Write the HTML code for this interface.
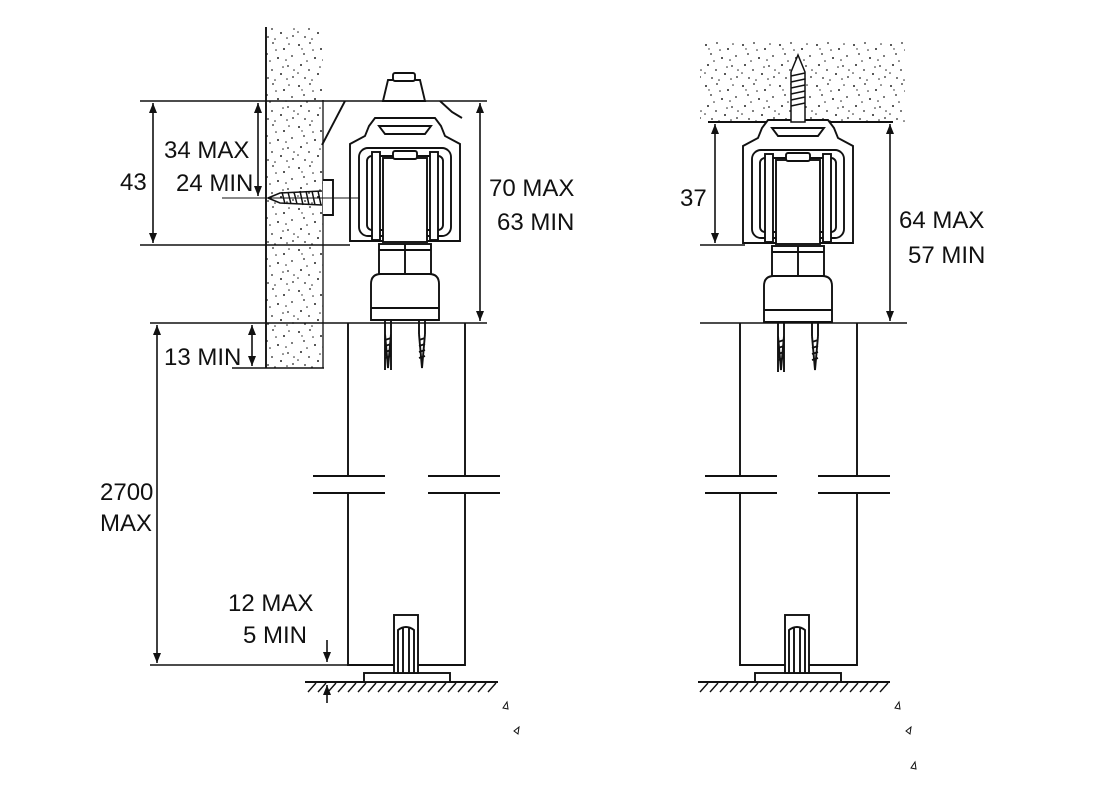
<!DOCTYPE html>
<html><head><meta charset="utf-8"><style>
html,body{margin:0;padding:0;background:#fff}
svg{display:block}
text{font-family:"Liberation Sans",Arial,sans-serif;font-size:24px;fill:#111}
</style></head><body>
<svg width="1119" height="803" viewBox="0 0 1119 803" xmlns="http://www.w3.org/2000/svg">
<defs>
<pattern id="dots" width="37" height="41" patternUnits="userSpaceOnUse">
<g fill="#222">
<circle cx="3" cy="4" r="1"/><circle cx="14" cy="2" r="0.9"/><circle cx="25" cy="8" r="1"/><circle cx="33" cy="15" r="0.9"/>
<circle cx="8" cy="13" r="0.9"/><circle cx="19" cy="17" r="1"/><circle cx="29" cy="25" r="0.9"/><circle cx="5" cy="24" r="1"/>
<circle cx="13" cy="29" r="0.9"/><circle cx="22" cy="33" r="1"/><circle cx="34" cy="36" r="0.9"/><circle cx="9" cy="37" r="0.9"/>
<circle cx="17" cy="9" r="0.8"/><circle cx="27" cy="19" r="0.8"/><circle cx="2" cy="32" r="0.8"/>
<circle cx="11" cy="20" r="0.8"/><circle cx="30" cy="3" r="0.8"/><circle cx="24" cy="26" r="0.8"/><circle cx="35" cy="29" r="0.8"/>
<circle cx="16" cy="39" r="0.8"/><circle cx="6" cy="8" r="0.7"/><circle cx="28" cy="38" r="0.8"/>
</g>
</pattern>
<marker id="ar" viewBox="0 0 10 10" refX="10" refY="5" markerWidth="10" markerHeight="13" orient="auto-start-reverse" markerUnits="userSpaceOnUse">
<path d="M0,1 L10,5 L0,9 Z" fill="#111"/>
</marker>
<g id="hanger" stroke="#111" stroke-width="1.9" fill="#fff">
<path d="M-30,0 H30 L36,8 L40,18 L55,26 V123 H-55 V26 L-40,18 L-36,8 Z"/>
<path d="M-26,8 H26 L20,16 H-20 Z"/>
<rect x="-46" y="30" width="92" height="88" rx="9"/>
<rect x="-38" y="38" width="76" height="74" rx="5"/>
<rect x="-33" y="34" width="8" height="88"/>
<rect x="25" y="34" width="8" height="88"/>
<rect x="-22" y="40" width="44" height="84"/>
<rect x="-12" y="33" width="24" height="8" rx="2"/>
<rect x="-26" y="126" width="52" height="30"/>
<line x1="0" y1="126" x2="0" y2="156"/>
<line x1="-26" y1="132" x2="26" y2="132"/>
<path d="M-34,166 Q-34,156 -24,156 H24 Q34,156 34,166 V202 H-34 Z"/>
<line x1="-34" y1="190" x2="34" y2="190"/>
<path d="M-20,202 V252 M-14,202 V252 M-20,216 L-17,250 L-14,216 M14,202 V216 M20,202 V216 M14,216 L17,250 L20,216" fill="none"/>
<path d="M-20,222 L-14,220 M-20,228 L-14,226 M-20,234 L-14,232 M-20,240 L-14,238 M14,222 L20,220 M14,228 L20,226 M14,234 L20,232 M14,240 L20,238" fill="none"/>
</g>
<g id="foot" stroke="#111" stroke-width="1.9" fill="#fff">
<rect x="-42" y="673" width="86" height="9"/>
<rect x="-12" y="615" width="24" height="58"/>
<path d="M-8,673 V630 Q0,624 8,630 V673 M-3,628 V673 M3,628 V673" fill="none"/>
</g>
</defs>

<!-- LEFT: wall -->
<rect x="266" y="27" width="57" height="341" fill="url(#dots)"/>
<line x1="266" y1="27" x2="266" y2="368" stroke="#111" stroke-width="1.9"/>
<line x1="323" y1="100" x2="323" y2="368" stroke="#111" stroke-width="1.3"/>

<!-- left hanger -->
<use href="#hanger" x="405" y="118"/>
<g stroke="#111" stroke-width="1.9" fill="#fff">
<path d="M383,101 L388,80 L420,80 L425,101 Z"/>
<rect x="393" y="73" width="22" height="8" rx="2"/>
<path d="M345,101 L322,145"/>
<path d="M440,101 L452,112 L462,118"/>
<path d="M323,180 H333 V215 H323"/>
</g>
<!-- wall screw -->
<g stroke="#111" stroke-width="1.5" fill="none">
<line x1="222" y1="198" x2="360" y2="198" stroke-width="1.1"/>
<path d="M268,198 L280,193 L322,191 M268,198 L280,203 L322,205"/>
<path d="M282,192 L285,204 M288,192 L291,204 M294,192 L297,204 M300,191 L303,205 M306,191 L309,205 M312,191 L315,205 M318,191 L321,205"/>
</g>

<!-- left dimension lines -->
<g stroke="#111" stroke-width="1.6" fill="none">
<line x1="140" y1="101" x2="487" y2="101"/>
<line x1="140" y1="245" x2="350" y2="245"/>
<line x1="150" y1="323" x2="487" y2="323"/>
<line x1="232" y1="368" x2="324" y2="368"/>
<line x1="150" y1="665" x2="348" y2="665"/>
<line x1="153" y1="103" x2="153" y2="243" marker-start="url(#ar)" marker-end="url(#ar)"/>
<line x1="258" y1="103" x2="258" y2="196" marker-start="url(#ar)" marker-end="url(#ar)"/>
<line x1="480" y1="103" x2="480" y2="321" marker-start="url(#ar)" marker-end="url(#ar)"/>
<line x1="252" y1="325" x2="252" y2="366" marker-start="url(#ar)" marker-end="url(#ar)"/>
<line x1="157" y1="325" x2="157" y2="663" marker-start="url(#ar)" marker-end="url(#ar)"/>
<line x1="327" y1="640" x2="327" y2="662" marker-end="url(#ar)"/>
<line x1="327" y1="703" x2="327" y2="685" marker-end="url(#ar)"/>
</g>

<!-- left door -->
<g stroke="#111" stroke-width="1.9" fill="none">
<path d="M348,323 V476 M465,323 V476 M348,493 V665 H465 V493"/>
<path d="M313,476 H385 M428,476 H500 M313,493 H385 M428,493 H500"/>
<line x1="305" y1="682" x2="498" y2="682"/>
</g>
<use href="#foot" x="406" y="0"/>

<!-- right ceiling -->
<rect x="700" y="42" width="205" height="80" fill="url(#dots)"/>
<line x1="708" y1="122" x2="893" y2="122" stroke="#111" stroke-width="2"/>
<use href="#hanger" x="798" y="120"/>
<g stroke="#111" stroke-width="1.5" fill="#fff">
<path d="M791,122 V72 L798,55 L805,72 V122 Z"/>
<path d="M791,76 L805,73 M791,82 L805,79 M791,88 L805,85 M791,94 L805,91 M791,100 L805,97 M791,106 L805,103" fill="none"/>
</g>
<g stroke="#111" stroke-width="1.6" fill="none">
<line x1="700" y1="245" x2="745" y2="245"/>
<line x1="700" y1="323" x2="907" y2="323"/>
<line x1="715" y1="124" x2="715" y2="243" marker-start="url(#ar)" marker-end="url(#ar)"/>
<line x1="890" y1="124" x2="890" y2="321" marker-start="url(#ar)" marker-end="url(#ar)"/>
</g>
<g stroke="#111" stroke-width="1.9" fill="none">
<path d="M740,323 V476 M857,323 V476 M740,493 V665 H857 V493"/>
<path d="M705,476 H777 M818,476 H890 M705,493 H777 M818,493 H890"/>
<line x1="698" y1="682" x2="890" y2="682"/>
</g>
<use href="#foot" x="797" y="0"/>

<!-- hatching -->
<g stroke="#111" stroke-width="1.4">
<path d="M308,692 L316,683 M318,692 L326,683 M328,692 L336,683 M338,692 L346,683 M348,692 L356,683 M358,692 L366,683 M368,692 L376,683 M378,692 L386,683 M388,692 L396,683 M398,692 L406,683 M408,692 L416,683 M418,692 L426,683 M428,692 L436,683 M438,692 L446,683 M448,692 L456,683 M458,692 L466,683 M468,692 L476,683 M478,692 L486,683 M488,692 L496,683"/>
<path d="M700,692 L708,683 M710,692 L718,683 M720,692 L728,683 M730,692 L738,683 M740,692 L748,683 M750,692 L758,683 M760,692 L768,683 M770,692 L778,683 M780,692 L788,683 M790,692 L798,683 M800,692 L808,683 M810,692 L818,683 M820,692 L828,683 M830,692 L838,683 M840,692 L848,683 M850,692 L858,683 M860,692 L868,683 M870,692 L878,683 M880,692 L888,683"/>
</g>
<g fill="none" stroke="#111" stroke-width="1">
<path d="M503,708 L507,702 L508,709 Z M514,731 L519,727 L518,734 Z M895,708 L899,702 L900,709 Z M906,731 L911,727 L910,734 Z M911,768 L915,762 L916,769 Z"/>
</g>

<!-- labels -->
<text x="120" y="190">43</text>
<text x="164" y="158">34 MAX</text>
<text x="176" y="191">24 MIN</text>
<text x="489" y="196">70 MAX</text>
<text x="497" y="230">63 MIN</text>
<text x="164" y="365">13 MIN</text>
<text x="100" y="500">2700</text>
<text x="100" y="531">MAX</text>
<text x="228" y="611">12 MAX</text>
<text x="243" y="643">5 MIN</text>
<text x="680" y="206">37</text>
<text x="899" y="228">64 MAX</text>
<text x="908" y="263">57 MIN</text>
</svg>
</body></html>
